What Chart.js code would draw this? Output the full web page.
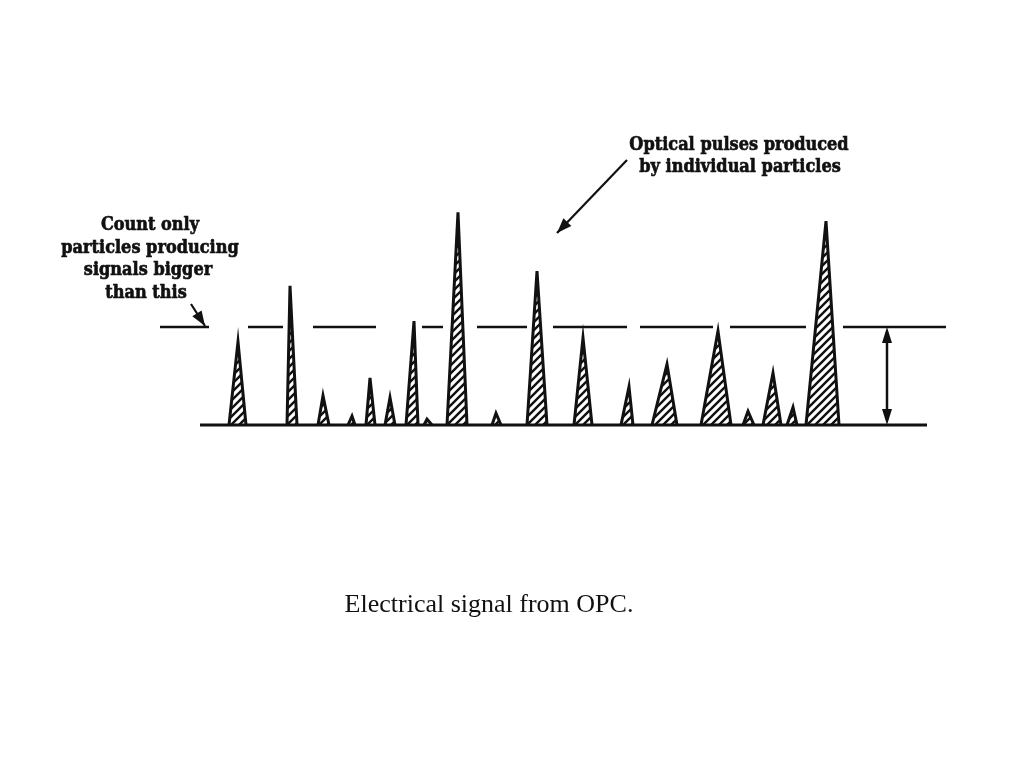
<!DOCTYPE html>
<html>
<head>
<meta charset="utf-8">
<title>Electrical signal from OPC</title>
<script src="https://cdn.jsdelivr.net/npm/chart.js@4/dist/chart.umd.min.js"></script>
<style>
  html, body { margin: 0; padding: 0; background: #fff; }
  #wrap { width: 1024px; height: 768px; position: relative; }
</style>
</head>
<body>
<div id="wrap"><canvas id="opcChart" width="1024" height="768"></canvas></div>
<script>
// --- Data ---
// time axis (arbitrary units), amplitude relative to the count threshold (threshold = 1)
const pulseStart = [229, 287, 318, 348, 366, 385, 406, 424, 447, 492, 527, 574, 621, 652, 701, 743, 763, 787, 806];
const pulsePeak  = [238, 290, 323, 352, 370, 390, 414, 427, 458, 496, 537, 583, 629, 667, 718, 748, 773, 793, 826];
const pulseEnd   = [246, 297, 329, 355, 375, 395, 418, 432, 467, 501, 547, 592, 633, 677, 731, 754, 781, 797, 839];
const pulseHeight = [0.85, 1.42, 0.30, 0.09, 0.48, 0.28, 1.06, 0.06, 2.17, 0.12, 1.57, 0.89, 0.39, 0.62, 0.96, 0.14, 0.53, 0.18, 2.08];

const baselineRange = [200, 927];
const thresholdLevel = 1;
const thresholdDashes = [[160, 209], [248, 283], [313, 376], [422, 443], [477, 527], [553, 627], [640, 713], [730, 806], [843, 946]];
const markerX = 887;

const ink = '#111';

// --- Hatch pattern ---
function makeHatch() {
  const size = 8;
  const c = document.createElement('canvas');
  c.width = size;
  c.height = size;
  const g = c.getContext('2d');
  g.strokeStyle = ink;
  g.lineWidth = 2.4;
  g.beginPath();
  g.moveTo(0, size); g.lineTo(size, 0);
  g.moveTo(-2, 2); g.lineTo(2, -2);
  g.moveTo(size - 2, size + 2); g.lineTo(size + 2, size - 2);
  g.stroke();
  return g.createPattern(c, 'repeat');
}

// --- Datasets ---
function buildDatasets() {
  const hatch = makeHatch();
  const sets = [];

  pulsePeak.forEach((px, i) => {
    sets.push({
      data: [{ x: pulseStart[i], y: 0 }, { x: px, y: pulseHeight[i] }, { x: pulseEnd[i], y: 0 }],
      borderColor: ink,
      borderWidth: 3,
      backgroundColor: hatch,
      fill: 'origin',
      showLine: true,
      pointRadius: 0,
      tension: 0
    });
  });

  sets.push({
    data: [{ x: baselineRange[0], y: 0 }, { x: baselineRange[1], y: 0 }],
    borderColor: ink,
    borderWidth: 3,
    showLine: true,
    pointRadius: 0,
    fill: false
  });

  thresholdDashes.forEach(seg => {
    sets.push({
      data: [{ x: seg[0], y: thresholdLevel }, { x: seg[1], y: thresholdLevel }],
      borderColor: ink,
      borderWidth: 2.5,
      showLine: true,
      pointRadius: 0,
      fill: false
    });
  });

  sets.push({
    data: [{ x: markerX, y: 0.05 }, { x: markerX, y: thresholdLevel - 0.05 }],
    borderColor: ink,
    borderWidth: 2.5,
    showLine: true,
    pointRadius: 0,
    fill: false
  });

  return sets;
}

// --- Annotations ---
function arrowHead(ctx, x0, y0, x1, y1, len, half) {
  const a = Math.atan2(y1 - y0, x1 - x0);
  ctx.beginPath();
  ctx.moveTo(x1, y1);
  ctx.lineTo(x1 - len * Math.cos(a) + half * Math.sin(a), y1 - len * Math.sin(a) - half * Math.cos(a));
  ctx.lineTo(x1 - len * Math.cos(a) - half * Math.sin(a), y1 - len * Math.sin(a) + half * Math.cos(a));
  ctx.closePath();
  ctx.fill();
}

function arrow(ctx, x0, y0, x1, y1) {
  ctx.beginPath();
  ctx.moveTo(x0, y0);
  ctx.lineTo(x1, y1);
  ctx.stroke();
  arrowHead(ctx, x0, y0, x1, y1, 15, 5.5);
}

function boldText(ctx, text, x, y) {
  ctx.fillText(text, x, y);
  ctx.strokeText(text, x, y);
}

const annotations = {
  id: 'annotations',
  afterDatasetsDraw(chart) {
    const ctx = chart.ctx;
    const xs = chart.scales.x;
    const ys = chart.scales.y;
    ctx.save();
    ctx.fillStyle = ink;
    ctx.strokeStyle = ink;
    ctx.lineWidth = 2.2;

    // double arrow between baseline and threshold
    const mx = xs.getPixelForValue(markerX);
    const yTop = ys.getPixelForValue(thresholdLevel);
    const yBot = ys.getPixelForValue(0);
    arrowHead(ctx, mx, yBot, mx, yTop, 16, 5);
    arrowHead(ctx, mx, yTop, mx, yBot, 16, 5);

    // pointer arrows
    arrow(ctx, 191, 304, 205, 326);
    arrow(ctx, 627, 160, 557, 233);

    // labels
    ctx.textAlign = 'center';
    ctx.textBaseline = 'middle';
    ctx.font = 'bold 19px "DejaVu Serif"';
    ctx.lineWidth = 0.7;
    const sx = 0.85;
    ctx.save();
    ctx.scale(sx, 1);
    const labels = [
      ['Count only', 150, 225], ['particles producing', 150, 248], ['signals bigger', 148, 270], ['than this', 146, 293],
      ['Optical pulses produced', 739, 145], ['by individual particles', 740, 167]
    ];
    labels.forEach(l => boldText(ctx, l[0], l[1] / sx, l[2]));
    ctx.restore();

    ctx.font = '26px "Liberation Serif"';
    ctx.fillText('Electrical signal from OPC.', 489, 605);
    ctx.restore();
  }
};

// --- Chart ---
function renderChart() {
  const ctx = document.getElementById('opcChart').getContext('2d');
  new Chart(ctx, {
    type: 'scatter',
    data: { datasets: buildDatasets() },
    options: {
      responsive: false,
      animation: false,
      layout: { padding: 0 },
      plugins: { legend: { display: false }, tooltip: { enabled: false } },
      scales: {
        x: { type: 'linear', display: false, min: 0, max: 1024 },
        y: { type: 'linear', display: false, min: -343 / 98, max: 425 / 98 }
      }
    },
    plugins: [annotations]
  });
}

renderChart();
</script>
</body>
</html>
